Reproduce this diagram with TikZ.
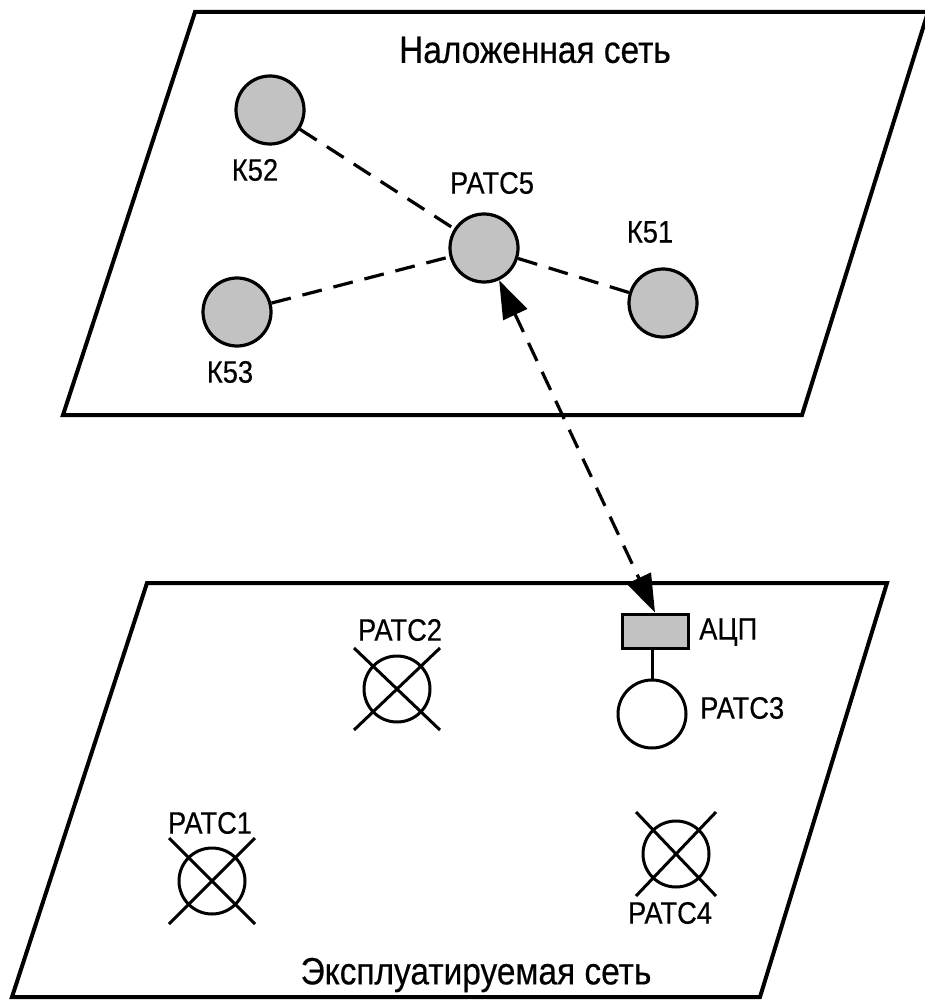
\documentclass[tikz,border=0pt]{standalone}
\usepackage{fontspec}
\setmainfont{Liberation Sans}
\newfontfamily\narrowfont[FakeStretch=0.88,FakeBold=0.4]{Liberation Sans}
\usetikzlibrary{arrows.meta}
\definecolor{nodegray}{gray}{0.76}
\begin{document}
\begin{tikzpicture}[x=1pt,y=-1pt,
  plane/.style={line width=4pt, line join=miter},
  site/.style={circle, draw, line width=3.2pt, minimum size=68pt, inner sep=0pt, fill=nodegray},
  plainsite/.style={circle, draw, line width=3pt, minimum size=68pt, inner sep=0pt, fill=white},
  deadsite/.style={circle, draw, line width=3pt, minimum size=66pt, inner sep=0pt},
  adcbox/.style={draw, line width=3pt, fill=nodegray, minimum width=66pt, minimum height=34pt, inner sep=0pt},
  lbl/.style={font=\narrowfont\fontsize{31}{35}\selectfont, inner sep=0pt},
  ttl/.style={font=\narrowfont\fontsize{38}{42}\selectfont, inner sep=0pt},
  link/.style={line width=3.2pt, dash pattern=on 20pt off 12pt},
  cross/.style={line width=3pt},
  solidlink/.style={line width=3pt}
]
\useasboundingbox (0,0) rectangle (924,1000);
% planes
\draw[plane] (195,12) -- (928,12) -- (802,415) -- (63,415) -- cycle;
\draw[plane] (147,583) -- (887,583) -- (760,997) -- (12,997) -- cycle;
% titles
\node[ttl] (t1) at (535,50) {Наложенная сеть};
\node[ttl] (t2) at (476,975) {Эксплуатируемая сеть};
% upper network
\node[site] (k52) at (270,110) {};
\node[site] (r5) at (484,248) {};
\node[site] (k51) at (663,303) {};
\node[site] (k53) at (237,312) {};
\node[lbl] (lk52) at (255,170) {К52};
\node[lbl] (lr5) at (492,183) {РАТС5};
\node[lbl] (lk51) at (650,232) {К51};
\node[lbl] (lk53) at (230,372) {К53};
\draw[link] (k52) -- (r5);
\draw[link] (k53) -- (r5);
\draw[link] (r5) -- (k51);
% lower network
\node[adcbox] (adc) at (655,631) {};
\node[lbl, anchor=west] (ladc) at (699,632) {АЦП};
\node[plainsite] (r3) at (652,714) {};
\node[lbl, anchor=west] (lr3) at (700,708) {РАТС3};
\draw[solidlink] (adc.south -| r3) -- (r3);
\node[deadsite] (r2) at (397,689) {};
\node[lbl] (lr2) at (400,630) {РАТС2};
\draw[cross] (r2) ++(-43,-41) -- ++(86,82);
\draw[cross] (r2) ++(43,-41) -- ++(-86,82);
\node[deadsite] (r1) at (212,881) {};
\node[lbl] (lr1) at (210,823) {РАТС1};
\draw[cross] (r1) ++(-43,-43) -- ++(86,86);
\draw[cross] (r1) ++(43,-43) -- ++(-86,86);
\node[deadsite] (r4) at (676,854) {};
\node[lbl] (lr4) at (670,913) {РАТС4};
\draw[cross] (r4) ++(-40,-42) -- ++(80,84);
\draw[cross] (r4) ++(40,-42) -- ++(-80,84);
% link between networks
\draw[link, {Triangle[length=38pt,width=26pt]}-{Triangle[length=38pt,width=26pt]}] (r5) -- (adc.north);
\end{tikzpicture}
\end{document}
